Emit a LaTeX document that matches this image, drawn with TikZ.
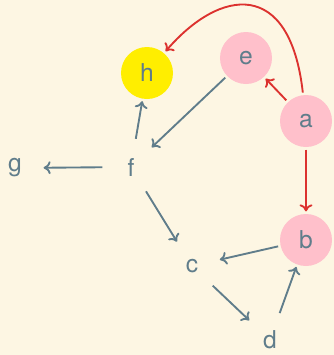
\documentclass[tikz,border=0pt]{standalone}
\usepackage{fontspec}
\setmainfont{TeX Gyre Heros}
\usetikzlibrary{arrows.meta}
\definecolor{gbg}{HTML}{FDF6E3}
\definecolor{gink}{HTML}{607D8B}
\definecolor{gred}{HTML}{DC322F}
\definecolor{gpink}{HTML}{FFC0CB}
\definecolor{gyellow}{HTML}{FFEE00}
\tikzset{
  vtx/.style={circle,minimum size=1.56cm,inner sep=0pt,text=gink,font=\fontsize{21}{24}\selectfont},
  hot/.style={vtx,fill=gpink},
  goal/.style={vtx,fill=gyellow},
  edge/.style={gink,line width=1.6pt,-{To[length=6pt,width=11pt]},shorten <=2pt,shorten >=2pt},
  redge/.style={edge,gred}
}
\begin{document}
\begin{tikzpicture}[x=0.03cm,y=-0.03cm]
\path[use as bounding box,fill=gbg] (0,0) rectangle (334,355);
\node[goal] (h) at (147,73) {h};
\node[hot] (e) at (246,58) {e};
\node[hot] (a) at (306,121) {a};
\node[hot] (b) at (306,240) {b};
\node[vtx] (f) at (131,167) {f};
\node[vtx] (g) at (15,168) {g};
\node[vtx] (c) at (192,266) {c};
\node[vtx] (d) at (270,340) {d};
\draw[redge] (a) .. controls +(-16,-143) and +(73,-85) .. (h);
\draw[redge] (a) -- (e);
\draw[redge] (a) -- (b);
\draw[edge] (e) -- (f);
\draw[edge] (f) -- (h);
\draw[edge] (f) -- (g);
\draw[edge] (f) -- (c);
\draw[edge] (b) -- (c);
\draw[edge] (c) -- (d);
\draw[edge] (d) -- (b);
\end{tikzpicture}
\end{document}
